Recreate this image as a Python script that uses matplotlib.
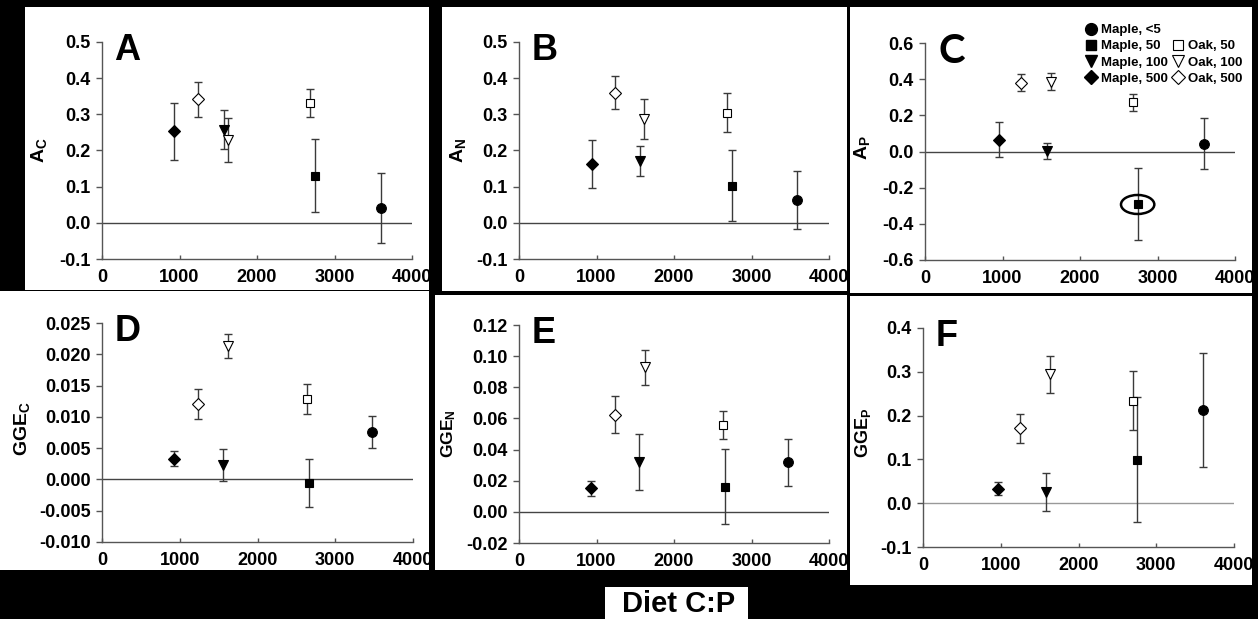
import matplotlib.pyplot as plt
from matplotlib.patches import Rectangle, Ellipse
from matplotlib.lines import Line2D
from matplotlib.ticker import MultipleLocator, FormatStrFormatter

plt.rcParams['font.family'] = ['Liberation Sans', 'DejaVu Sans']
plt.rcParams['font.weight'] = 'bold'
plt.rcParams['axes.unicode_minus'] = False
plt.rcParams['mathtext.fontset'] = 'custom'
plt.rcParams['mathtext.bf'] = 'Liberation Sans:bold'
plt.rcParams['mathtext.rm'] = 'Liberation Sans:bold'

# series order: Maple <5, Maple 50, Maple 100, Maple 500, Oak 50, Oak 100, Oak 500
series = ['Maple, <5', 'Maple, 50', 'Maple, 100', 'Maple, 500', 'Oak, 50', 'Oak, 100', 'Oak, 500']
markers = ['o', 's', 'v', 'D', 's', 'v', 'D']
filled = [True, True, True, True, False, False, False]

# panel A: A_C
x_A = [3600, 2748, 1574, 933, 2684, 1622, 1235]
y_A = [0.040, 0.130, 0.258, 0.253, 0.331, 0.228, 0.342]
e_A = [0.097, 0.101, 0.053, 0.078, 0.038, 0.061, 0.048]

# panel B: A_N
x_B = [3592, 2750, 1560, 945, 2685, 1615, 1237]
y_B = [0.062, 0.102, 0.171, 0.162, 0.305, 0.288, 0.360]
e_B = [0.080, 0.098, 0.042, 0.067, 0.053, 0.055, 0.046]

# panel C: A_P
x_C = [3604, 2744, 1570, 950, 2688, 1622, 1234]
y_C = [0.044, -0.293, 0.004, 0.065, 0.272, 0.387, 0.381]
e_C = [0.139, 0.199, 0.043, 0.096, 0.047, 0.047, 0.045]

# panel D: GGE_C
x_D = [3473, 2658, 1552, 926, 2637, 1620, 1235]
y_D = [0.0076, -0.0006, 0.0023, 0.0033, 0.0128, 0.0213, 0.0121]
e_D = [0.0026, 0.0038, 0.0025, 0.0012, 0.0024, 0.0019, 0.0024]

# panel E: GGE_N
x_E = [3471, 2655, 1547, 932, 2634, 1620, 1237]
y_E = [0.0317, 0.0161, 0.0322, 0.0152, 0.0557, 0.0928, 0.0624]
e_E = [0.0150, 0.0242, 0.0179, 0.0049, 0.0088, 0.0114, 0.0120]

# panel F: GGE_P
x_F = [3601, 2753, 1582, 965, 2697, 1629, 1243]
y_F = [0.213, 0.099, 0.026, 0.033, 0.234, 0.294, 0.171]
e_F = [0.130, 0.143, 0.044, 0.015, 0.067, 0.042, 0.033]

W, H = 1258, 619
fig = plt.figure(figsize=(12.58, 6.19), dpi=100, facecolor='black')


def box(x0, y0, x1, y1):
    # pixel coords (top-left origin) -> figure fraction
    return [x0 / W, 1 - y1 / H, (x1 - x0) / W, (y1 - y0) / H]


# white panel backgrounds
for b in [(25, 7, 429, 290), (442, 7, 847, 291), (850, 7, 1252, 293),
          (0, 291, 429, 570), (435, 295, 847, 570), (850, 296, 1252, 585),
          (605, 587, 748, 619)]:
    l, bt, w, h = box(*b)
    fig.add_artist(Rectangle((l, bt), w, h, transform=fig.transFigure,
                             fc='white', ec='none', zorder=-1))

panels = [
    ('A', (102, 42, 412, 259), x_A, y_A, e_A, (-0.1, 0.5, 0.1, '%.1f'), r'$\mathbf{A_C}$', 14, (-0.172, 0.5)),
    ('B', (519, 42, 829, 259), x_B, y_B, e_B, (-0.1, 0.5, 0.1, '%.1f'), r'$\mathbf{A_N}$', 14, (-0.163, 0.5)),
    ('C', (925, 43, 1235, 260), x_C, y_C, e_C, (-0.6, 0.6, 0.2, '%.1f'), r'$\mathbf{A_P}$', 14, (-0.17, 0.52)),
    ('D', (102, 323, 413, 542), x_D, y_D, e_D, (-0.010, 0.025, 0.005, '%.3f'), r'$\mathbf{GGE_C}$', 14, (-0.225, 0.52)),
    ('E', (519, 325, 829, 543), x_E, y_E, e_E, (-0.02, 0.12, 0.02, '%.2f'), r'$\mathbf{GGE_N}$', 12.5, (-0.197, 0.50)),
    ('F', (923, 328, 1234, 547), x_F, y_F, e_F, (-0.1, 0.4, 0.1, '%.1f'), r'$\mathbf{GGE_P}$', 13, (-0.16, 0.52)),
]

axes = {}
for letter, pos, xs, ys, es, (lo, hi, step, fmt), ylab, ylsize, labxy in panels:
    ax = fig.add_axes(box(*pos))
    axes[letter] = ax
    ax.set_facecolor('white')
    for i in range(len(series)):
        ax.errorbar(xs[i], ys[i], yerr=es[i], fmt='none', ecolor='#3a3a3a',
                    elinewidth=1, capsize=3, capthick=1, zorder=2)
        ms = 7 if markers[i] in ('o', 'v') else 6
        ax.plot(xs[i], ys[i], ls='none', marker=markers[i], ms=ms,
                mfc='black' if filled[i] else 'white', mec='black',
                mew=0.8, zorder=3)
    ax.axhline(0, color='#999999' if letter == 'F' else '#444444', lw=1, zorder=1)
    ax.set_xlim(0, 4000)
    ax.set_ylim(lo, hi)
    ax.xaxis.set_major_locator(MultipleLocator(1000))
    ax.yaxis.set_major_locator(MultipleLocator(step))
    ax.yaxis.set_major_formatter(FormatStrFormatter(fmt))
    for s in ['top', 'right']:
        ax.spines[s].set_visible(False)
    for s in ['left', 'bottom']:
        ax.spines[s].set_color('#555555')
        ax.spines[s].set_linewidth(1)
    ax.tick_params(axis='y', direction='out', length=4, width=1, color='#555555',
                   labelsize=13, pad=4)
    ax.tick_params(axis='x', direction='in', length=3, width=1, color='#555555',
                   labelsize=13, pad=7)
    for lab in ax.get_xticklabels() + ax.get_yticklabels():
        lab.set_fontweight('bold')
    ax.set_ylabel(ylab, fontsize=ylsize)
    ax.yaxis.set_label_coords(*labxy)
    if letter == 'C':
        ax.text(0.045, 1.045, letter, transform=ax.transAxes, fontsize=29,
                fontweight='bold', family='Lato', va='top', ha='left')
    else:
        ax.text(0.04, 1.04, letter, transform=ax.transAxes, fontsize=26,
                fontweight='bold', va='top', ha='left')

# circled outlier in panel C
axes['C'].add_patch(Ellipse((x_C[1], y_C[1]), 430, 0.105, fill=False,
                            ec='black', lw=1.8, zorder=4))

# legend in panel C
blank = Line2D([], [], ls='none', marker=None)
handles = []
for i in range(4):
    handles.append(Line2D([], [], ls='none', marker=markers[i],
                          ms=8.5 if markers[i] in ('o', 'v') else 7.5,
                          mfc='black', mec='black'))
handles.append(blank)
for i in range(4, 7):
    handles.append(Line2D([], [], ls='none', marker=markers[i],
                          ms=8.5 if markers[i] == 'v' else 7.5,
                          mfc='white', mec='black', mew=0.8))
labels = series[:4] + [''] + series[4:]
fig.legend(handles, labels, loc='upper left', bbox_to_anchor=(1084 / W, 1 - 24 / H),
           ncol=2, frameon=False, handlelength=1.0,
           handletextpad=0.3, columnspacing=0.25, labelspacing=0.3,
           borderpad=0, borderaxespad=0, prop={'weight': 'bold', 'size': 9.5})

fig.text(679 / W, 1 - 604 / H, 'Diet C:P', fontsize=21, fontweight='bold',
         ha='center', va='center')

fig.savefig('out.png', dpi=100, facecolor='black')
